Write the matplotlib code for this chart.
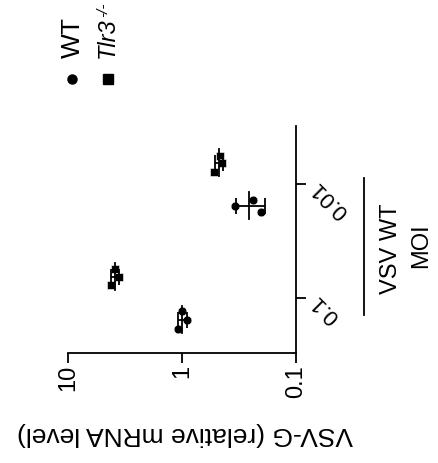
import numpy as np
import matplotlib
matplotlib.use("Agg")
import matplotlib.pyplot as plt
from matplotlib.lines import Line2D

plt.rcParams["font.family"] = ["Liberation Sans", "DejaVu Sans"]

# ── data (VSV-G relative mRNA level, 3 replicates per group) ─────────────
moi_labels = ["0.1", "0.01"]
wt_vals    = [[1.08, 0.99, 0.91], [0.343, 0.237, 0.203]]
tlr3_vals  = [[4.2, 3.87, 3.57], [0.52, 0.464, 0.449]]
# horizontal scatter of replicates within a group (category units)
wt_jitter   = [[-0.08, 0.075, 0.0], [0.0, 0.05, -0.05]]
tlr3_jitter = [[-0.076, 0.07, 0.0], [-0.08, 0.056, -0.008]]
value_ticks = [10, 1, 0.1]
value_tick_labels = ["10", "1", "0.1"]

W, H, DPI = 438, 463, 100
GROUP_OFF = 0.19
MEAN_HALF = 0.118


def px(x, y):
    """pixel (from top-left) -> figure fraction"""
    return x / W, 1 - y / H


fig = plt.figure(figsize=(W / DPI, H / DPI), dpi=DPI)
ax = fig.add_axes([68 / W, 110 / H, 228 / W, 227 / H])

series = [(wt_vals, wt_jitter, -GROUP_OFF, "o"),
          (tlr3_vals, tlr3_jitter, GROUP_OFF, "s")]
for vals, jit, off, mk in series:
    for i, (v, j) in enumerate(zip(vals, jit)):
        v = np.array(v)
        pos = i + off
        ax.scatter(v, pos + np.array(j), marker=mk, s=40, color="black",
                   edgecolors="white", linewidths=0.4, zorder=3)
        m, sd = v.mean(), v.std(ddof=1)
        ax.plot([m, m], [pos - MEAN_HALF, pos + MEAN_HALF], color="black",
                lw=1.3, zorder=4)
        ax.errorbar(m, pos, xerr=sd, fmt="none", ecolor="black",
                    elinewidth=1.3, capsize=5.5, capthick=1.3, zorder=4)

# value axis (log, runs right-to-left)
ax.set_xscale("log")
ax.set_xlim(10, 0.1)
ax.set_xticks(value_ticks)
ax.set_xticklabels(value_tick_labels, rotation=90, fontsize=17)
ax.xaxis.set_minor_locator(matplotlib.ticker.NullLocator())
ax.tick_params(axis="x", length=7, width=1.3, pad=1.5)

# category axis on the right
ax.set_ylim(-0.48, 1.51)
ax.yaxis.tick_right()
ax.set_yticks(range(len(moi_labels)))
ax.set_yticklabels(moi_labels, fontsize=16, rotation=135,
                   rotation_mode="anchor", ha="right", va="center")
ax.tick_params(axis="y", length=7, width=1.3, pad=6.5)

for s in ["left", "top"]:
    ax.spines[s].set_visible(False)
for s in ["bottom", "right"]:
    ax.spines[s].set_linewidth(1.3)

ax.set_xlabel("VSV-G (relative mRNA level)", fontsize=19, rotation=180,
              va="center")
ax.xaxis.set_label_coords(0.513, -0.359)

# grouping line + labels
ax.add_artist(Line2D([1.298, 1.298], [0.167, 0.771], color="black", lw=1.3,
                     transform=ax.transAxes, clip_on=False))
fig.text(*px(391, 249), "VSV WT", rotation=90, fontsize=17,
         ha="center", va="center")
fig.text(*px(421, 246), "MOI", rotation=90, fontsize=17,
         ha="center", va="center")

# legend drawn by hand (rotated)
fig.add_artist(Line2D([px(72, 79)[0]], [px(72, 79)[1]], marker="o",
                      markersize=6.5, color="black", transform=fig.transFigure))
fig.add_artist(Line2D([px(108, 79)[0]], [px(108, 79)[1]], marker="s",
                      markersize=6.5, color="black", transform=fig.transFigure))
fig.text(*px(72.5, 58), "WT", rotation=90, fontsize=19, ha="center", va="bottom")
t = fig.text(*px(107, 58), "Tlr3", rotation=90, fontsize=17, style="italic",
             ha="center", va="bottom")
bb = t.get_window_extent(renderer=fig.canvas.get_renderer())
# superscript: raised = shifted left when rotated 90°
fig.text(bb.x0 / W + 1 / W, bb.y1 / H, "-/-", rotation=90, fontsize=11,
         style="italic", ha="left", va="bottom")

fig.savefig("out.png", dpi=DPI)
